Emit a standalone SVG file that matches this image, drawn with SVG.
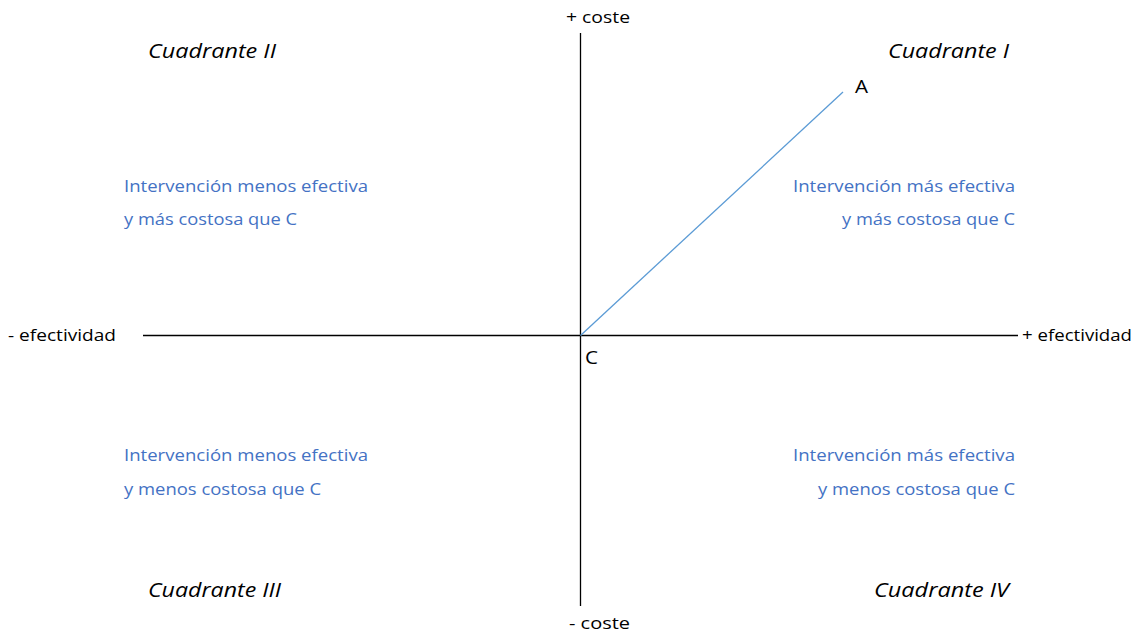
<svg xmlns="http://www.w3.org/2000/svg" width="1138" height="635" viewBox="0 0 1138 635">
<style>
text{font-family:"Open Sans","Liberation Sans",sans-serif;}
.ax{font-size:16.5px;fill:#000;}
.q{font-size:19.5px;font-style:italic;fill:#000;}
.b{font-size:17px;fill:#4472C4;}
.pt{font-size:19px;fill:#000;}
</style>
<rect width="1138" height="635" fill="#fff"/>
<g id="connectors">
<line x1="580.5" y1="33" x2="580.5" y2="606" stroke="#000" stroke-width="1.3"/>
<line x1="143" y1="335.5" x2="1018" y2="335.5" stroke="#000" stroke-width="1.3"/>
<line x1="580.5" y1="335.5" x2="843" y2="92" stroke="#5B9BD5" stroke-width="1.3"/>
</g>
<g id="axis-labels">
<text class="ax" x="566" y="23" textLength="64" lengthAdjust="spacingAndGlyphs">+ coste</text>
<text class="ax" x="569" y="629" textLength="61" lengthAdjust="spacingAndGlyphs">- coste</text>
<text class="ax" x="8" y="341" textLength="108" lengthAdjust="spacingAndGlyphs">- efectividad</text>
<text class="ax" x="1022" y="341" textLength="110" lengthAdjust="spacingAndGlyphs">+ efectividad</text>
</g>
<g id="quadrant-labels">
<text class="q" x="148" y="58" textLength="128" lengthAdjust="spacingAndGlyphs">Cuadrante II</text>
<text class="q" x="888" y="58" textLength="121" lengthAdjust="spacingAndGlyphs">Cuadrante I</text>
<text class="q" x="148" y="597" textLength="133" lengthAdjust="spacingAndGlyphs">Cuadrante III</text>
<text class="q" x="874" y="597" textLength="135" lengthAdjust="spacingAndGlyphs">Cuadrante IV</text>
</g>
<g id="point-A"><text class="pt" x="855" y="93" textLength="13" lengthAdjust="spacingAndGlyphs">A</text></g>
<g id="point-C"><text class="pt" x="585" y="364" textLength="13" lengthAdjust="spacingAndGlyphs">C</text></g>
<g id="q2-text">
<text class="b" x="124" y="192" textLength="244" lengthAdjust="spacingAndGlyphs">Intervención menos efectiva</text>
<text class="b" x="124" y="225" textLength="173" lengthAdjust="spacingAndGlyphs">y más costosa que C</text>
</g>
<g id="q1-text">
<text class="b" x="793" y="192" textLength="222" lengthAdjust="spacingAndGlyphs">Intervención más efectiva</text>
<text class="b" x="842" y="225" textLength="173" lengthAdjust="spacingAndGlyphs">y más costosa que C</text>
</g>
<g id="q3-text">
<text class="b" x="124" y="461" textLength="244" lengthAdjust="spacingAndGlyphs">Intervención menos efectiva</text>
<text class="b" x="124" y="495" textLength="197" lengthAdjust="spacingAndGlyphs">y menos costosa que C</text>
</g>
<g id="q4-text">
<text class="b" x="793" y="461" textLength="222" lengthAdjust="spacingAndGlyphs">Intervención más efectiva</text>
<text class="b" x="818" y="495" textLength="197" lengthAdjust="spacingAndGlyphs">y menos costosa que C</text>
</g>
</svg>
